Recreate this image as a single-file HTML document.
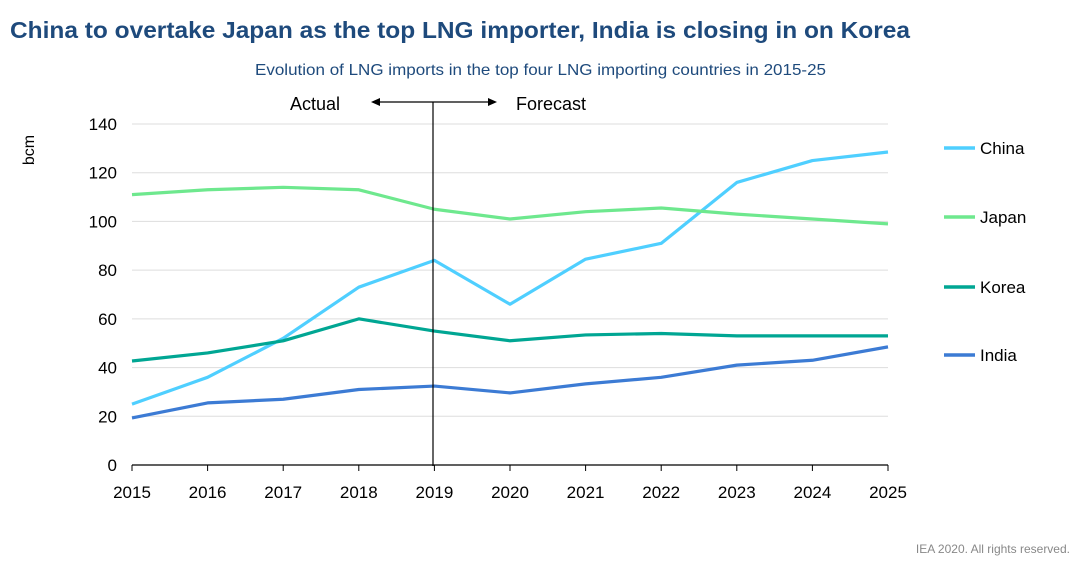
<!DOCTYPE html>
<html><head><meta charset="utf-8"><style>
body{margin:0;background:#fff;width:1080px;height:566px;overflow:hidden;font-family:"Liberation Sans",sans-serif}
</style></head><body>
<svg width="1080" height="566" font-family="Liberation Sans, sans-serif">
<text x="10" y="38" font-size="23" font-weight="bold" fill="#1e4a7c" textLength="900" lengthAdjust="spacingAndGlyphs">China to overtake Japan as the top LNG importer, India is closing in on Korea</text>
<text x="255" y="75" font-size="16" fill="#1e4a7c" textLength="571" lengthAdjust="spacingAndGlyphs">Evolution of LNG imports in the top four LNG importing countries in 2015-25</text>
<text x="34" y="150" font-size="16" transform="rotate(-90 34 150)" text-anchor="middle">bcm</text>
<g id="grid"></g><g id="lines"></g><g id="ticks"></g><g id="legend"></g>
<line x1="433" y1="102" x2="433" y2="466" stroke="#000" stroke-width="1.2"/>
<line x1="373" y1="102" x2="495" y2="102" stroke="#000" stroke-width="1.2"/>
<polygon points="371,102 380,98 380,106" fill="#000"/>
<polygon points="497,102 488,98 488,106" fill="#000"/>
<text x="340" y="110" font-size="18" text-anchor="end">Actual</text>
<text x="516" y="110" font-size="18">Forecast</text>
<text x="1070" y="553" font-size="12" fill="#888" text-anchor="end">IEA 2020. All rights reserved.</text>
</svg>
<script>
const years=[2015,2016,2017,2018,2019,2020,2021,2022,2023,2024,2025];
const yTicks=[0,20,40,60,80,100,120,140];
const seriesNames=["China","Japan","Korea","India"];
const china=[25,36,52,73,84,66,84.5,91,116,125,128.5];
const japan=[111,113,114,113,105,101,104,105.5,103,101,99];
const korea=[42.7,46,51,60,55,51,53.4,54,53,53,53];
const india=[19.3,25.5,27,31,32.4,29.6,33.3,36,41,43,48.5];
const colors=["#4fcfff","#6ee88e","#00a693","#3c7bd4"];
const data=[china,japan,korea,india];
const NS="http://www.w3.org/2000/svg";
const x=y=>132+(y-2015)*(888-132)/10;
const yv=v=>465-v*(465-124)/140;
function mk(t,a,p){const e=document.createElementNS(NS,t);for(const k in a)e.setAttribute(k,a[k]);document.getElementById(p).appendChild(e);return e;}
yTicks.forEach(t=>{
 if(t>0){const g=mk('line',{x1:132,x2:888,y1:yv(t),y2:yv(t),stroke:'#ddd','stroke-width':1},'grid');
 
 }
 const l=mk('text',{x:117,y:yv(t)+6,'font-size':17,'text-anchor':'end'},'ticks');l.textContent=t;
 
 
});
const ax=mk('line',{x1:132,x2:888,y1:465,y2:465,stroke:'#000','stroke-width':1.2},'ticks');


years.forEach(yr=>{
 const tk=mk('line',{x1:x(yr),x2:x(yr),y1:465,y2:471,stroke:'#000'},'ticks');
 
 
 const l=mk('text',{x:x(yr),y:498,'font-size':17,'text-anchor':'middle'},'ticks');l.textContent=yr;
 
 
});
const legY=[148,217,287,355];
data.forEach((s,i)=>{
 const p=mk('polyline',{points:s.map((v,j)=>x(years[j])+','+yv(v)).join(' '),fill:'none',stroke:colors[i],'stroke-width':3.2,'stroke-linejoin':'round'},'lines');
 
 
 const ll=mk('line',{x1:944,x2:975,y1:legY[i],y2:legY[i],stroke:colors[i],'stroke-width':3.5},'legend');
 
 
 const lt=mk('text',{x:980,y:legY[i]+6,'font-size':17},'legend');lt.textContent=seriesNames[i];
 
 
});
</script>
</body></html>
